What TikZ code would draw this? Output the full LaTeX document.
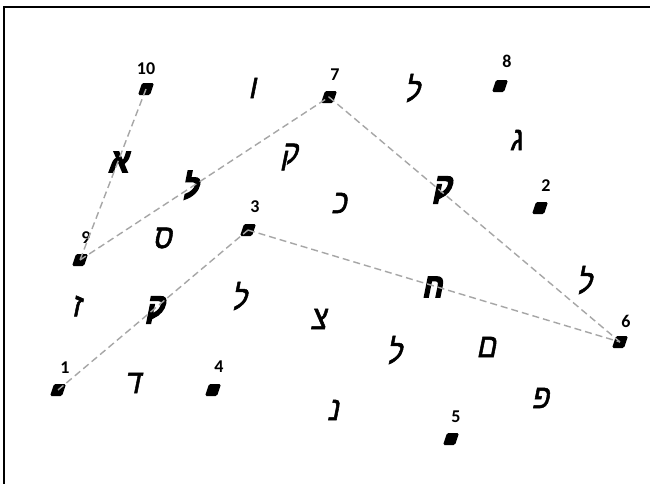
\documentclass[tikz,border=0pt]{standalone}
\usepackage{fontspec}
\newfontfamily\heb[Script=Hebrew,FakeSlant=0.2,FakeStretch=0.85,FakeBold=1.5]{Liberation Sans}
\newfontfamily\hebb[Script=Hebrew,FakeSlant=0.2,FakeStretch=0.85,FakeBold=4]{Liberation Sans Bold}
\newfontfamily\numfont{Carlito Bold}
\tikzset{
  marker/.pic={\fill[rounded corners=1.5pt] (-8,6) -- (-4,-6) -- (8,-6) -- (4,6) -- cycle;},
  num/.style={font=\numfont\fontsize{18}{18}\selectfont, inner sep=0pt},
  let/.style={font=\heb\fontsize{34}{34}\selectfont, inner sep=0pt},
  blet/.style={font=\hebb\fontsize{34}{34}\selectfont, inner sep=0pt},
  link/.style={draw=black!35, dash pattern=on 7pt off 4pt, line width=1.4pt}
}
\begin{document}
\begin{tikzpicture}[x=1pt,y=-1pt]
\useasboundingbox (0,0) rectangle (650,483);
\fill[white] (0,0) rectangle (650,483);
\draw[line width=2pt] (4,490) -- (4,7) -- (660,7);
% letters
\node[let]  (l1)  at (252,88)  {ו};
\node[let]  (l2)  at (412,88)  {ל};
\node[let]  (l3)  at (516,140) {ג};
\node[let]  (l4)  at (289,157) {ק};
\node[blet] (l5)  at (118,162) {א};
\node[blet] (l6)  at (190,185) {ל};
\node[blet] (l7)  at (442,190) {ק};
\node[let]  (l8)  at (339,203) {כ};
\node[let]  (l9)  at (162,238) {ס};
\node[let]  (l10) at (584,280) {ל};
\node[let]  (l11) at (76,306)  {ז};
\node[blet] (l12) at (155,310) {ק};
\node[let]  (l13) at (239,296) {ל};
\node[blet] (l14) at (432,287) {ח};
\node[let]  (l15) at (318,319) {צ};
\node[let]  (l16) at (394,350) {ל};
\node[let]  (l17) at (486,347) {ם};
\node[let]  (l18) at (132,383) {ד};
\node[let]  (l19) at (333,410) {נ};
\node[let]  (l20) at (540,398) {פ};
% points
\coordinate (p10) at (146,89);
\coordinate (p7)  at (329,97);
\coordinate (p8)  at (500,86);
\coordinate (p2)  at (540,208);
\coordinate (p9)  at (80,260);
\coordinate (p3)  at (248,230);
\coordinate (p6)  at (620,342);
\coordinate (p1)  at (58,390);
\coordinate (p4)  at (213,390);
\coordinate (p5)  at (451,439);
\foreach \p in {p10,p7,p8,p2,p9,p3,p6,p1,p4,p5} {\pic at (\p) {marker};}
% numbers
\node[num] (n10) at (146,69)  {10};
\node[num] (n7)  at (335,75)  {7};
\node[num] (n8)  at (507,61)  {8};
\node[num] (n2)  at (546,186) {2};
\node[num] (n9)  at (86,238)  {9};
\node[num] (n3)  at (255,207) {3};
\node[num] (n6)  at (626,321) {6};
\node[num] (n1)  at (65,368)  {1};
\node[num] (n4)  at (219,367) {4};
\node[num] (n5)  at (456,417) {5};
% links
\draw[link] (p10) -- (p9);
\draw[link] (p9) -- (p7);
\draw[link] (p7) -- (p6);
\draw[link] (p1) -- (p3);
\draw[link] (p3) -- (p6);
\end{tikzpicture}
\end{document}
